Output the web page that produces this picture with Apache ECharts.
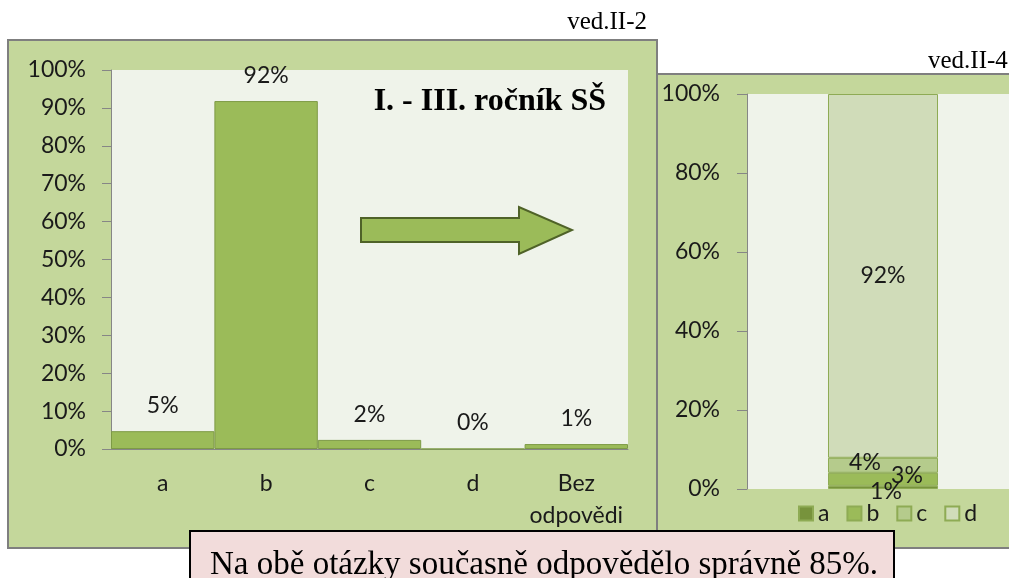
<!DOCTYPE html>
<html>
<head>
<meta charset="utf-8">
<script src="https://cdn.jsdelivr.net/npm/echarts@6/dist/echarts.min.js"></script>
<style>
  html, body { margin: 0; padding: 0; background: #fff; }
  #chart { width: 1009px; height: 578px; }
</style>
</head>
<body>
<div id="chart"></div>
<script>
// left chart: share of answers, I. - III. ročník SŠ
const categories = ['a', 'b', 'c', 'd', 'Bez\nodpovědi'];
const shareValues = [4.7, 91.8, 2.4, 0, 1.3];

// right chart: stacked column (cut off in the source)
const stackNames = ['a', 'b', 'c', 'd'];
const stackValues = [0.8, 3.3, 3.8, 92.1];
const stackCategory = [''];

const stackColors = ['#77933c', '#9bbb59', '#b5cb8c', '#d0dcb9'];
// label nudges so the small ones overlap like in the original
const stackOffsets = [[3, 4], [24, -4], [-18, -3], [0, 0]];

const FONT = 'Lato';
const SERIF = '"Liberation Serif", "Times New Roman", serif';
const FS = 23;

const chart = echarts.init(document.getElementById('chart'));

const stackSeries = stackNames.map((name, i) => ({
  name: name,
  type: 'bar',
  stack: 'all',
  xAxisIndex: 1,
  yAxisIndex: 1,
  barWidth: 110,
  z: 4,
  itemStyle: { color: stackColors[i], borderColor: '#8eab54', borderWidth: 1 },
  label: {
    show: true,
    position: 'inside',
    offset: stackOffsets[i],
    fontFamily: FONT,
    fontSize: FS,
    color: '#1a1a1a',
    formatter: p => Math.round(p.value) + '%'
  },
  data: [stackValues[i]]
}));

chart.setOption({
  animation: false,
  grid: [
    { left: 111, top: 70, width: 517, height: 379, show: true, backgroundColor: '#eff3ea', borderWidth: 0, z: 2,
      outerBoundsMode: 'none' },
    // this one runs off the right edge of the picture, like the cropped original
    { left: 747, top: 94, width: 272, height: 395, show: true, backgroundColor: '#eff3ea', borderWidth: 0, z: 2,
      outerBoundsMode: 'none' }
  ],
  legend: {
    data: stackNames,
    left: 793,
    top: 497,
    itemWidth: 14,
    itemHeight: 14,
    itemGap: 17,
    icon: 'rect',
    z: 4,
    textStyle: { fontFamily: FONT, fontSize: FS, color: '#1a1a1a' }
  },
  xAxis: [
    {
      type: 'category',
      gridIndex: 0,
      data: categories,
      z: 3,
      axisLine: { lineStyle: { color: '#868686', width: 1 } },
      axisTick: { show: false },
      axisLabel: { margin: 19, fontFamily: FONT, fontSize: FS, lineHeight: 32, color: '#1a1a1a', interval: 0 }
    },
    {
      type: 'category',
      gridIndex: 1,
      data: stackCategory,
      z: 3,
      axisLine: { show: false },
      axisTick: { show: false },
      axisLabel: { show: false }
    }
  ],
  yAxis: [
    {
      type: 'value',
      gridIndex: 0,
      min: 0,
      max: 100,
      interval: 10,
      z: 3,
      splitLine: { show: false },
      axisLine: { show: true, lineStyle: { color: '#868686' } },
      axisTick: { show: true, length: 9, lineStyle: { color: '#868686' } },
      axisLabel: { margin: 25, fontFamily: FONT, fontSize: FS, color: '#1a1a1a', formatter: '{value}%' }
    },
    {
      type: 'value',
      gridIndex: 1,
      min: 0,
      max: 100,
      interval: 20,
      z: 3,
      splitLine: { show: false },
      axisLine: { show: true, lineStyle: { color: '#868686' } },
      axisTick: { show: true, length: 10, lineStyle: { color: '#868686' } },
      axisLabel: { margin: 27, fontFamily: FONT, fontSize: FS, color: '#1a1a1a', formatter: '{value}%' }
    }
  ],
  series: [
    {
      type: 'bar',
      xAxisIndex: 0,
      yAxisIndex: 0,
      barCategoryGap: 0,
      z: 4,
      itemStyle: { color: '#9bbb59', borderColor: '#7d9a46', borderWidth: 1 },
      label: {
        show: true,
        position: 'top',
        distance: 14,
        fontFamily: FONT,
        fontSize: FS,
        color: '#1a1a1a',
        formatter: p => Math.round(p.value) + '%'
      },
      data: shareValues
    }
  ].concat(stackSeries),
  graphic: [
    // left panel
    { type: 'rect', z: 0, shape: { x: 8, y: 40, width: 649, height: 508 },
      style: { fill: '#c4d79b', stroke: '#7f7f7f', lineWidth: 2 } },
    // right panel, sits over the left one
    { type: 'rect', z: 1, shape: { x: 657, y: 74, width: 370, height: 474 },
      style: { fill: '#c4d79b', stroke: '#7f7f7f', lineWidth: 2 } },
    { type: 'text', z: 5, style: { x: 647, y: 22, text: 'ved.II-2', align: 'right', verticalAlign: 'middle',
      font: '25px ' + SERIF, fill: '#000' } },
    { type: 'text', z: 5, style: { x: 928, y: 61, text: 'ved.II-4', align: 'left', verticalAlign: 'middle',
      font: '25px ' + SERIF, fill: '#000' } },
    { type: 'text', z: 5, style: { x: 606, y: 102, text: 'I. - III. ročník SŠ', align: 'right', verticalAlign: 'middle',
      font: 'bold 32px ' + SERIF, fill: '#000' } },
    // arrow
    { type: 'polygon', z: 5,
      shape: { points: [[361, 218], [519, 218], [519, 207], [572, 230], [519, 254], [519, 242], [361, 242]] },
      style: { fill: '#9bbb59', stroke: '#4f6228', lineWidth: 2 } },
    // note box
    { type: 'rect', z: 10, shape: { x: 190, y: 531, width: 704, height: 60 },
      style: { fill: '#f2dcdb', stroke: '#000', lineWidth: 2 } },
    { type: 'text', z: 11, style: { x: 210, y: 565, text: 'Na obě otázky současně odpovědělo správně 85%.',
      align: 'left', verticalAlign: 'middle', font: '33px ' + SERIF, fill: '#000' } }
  ]
});
</script>
</body>
</html>
